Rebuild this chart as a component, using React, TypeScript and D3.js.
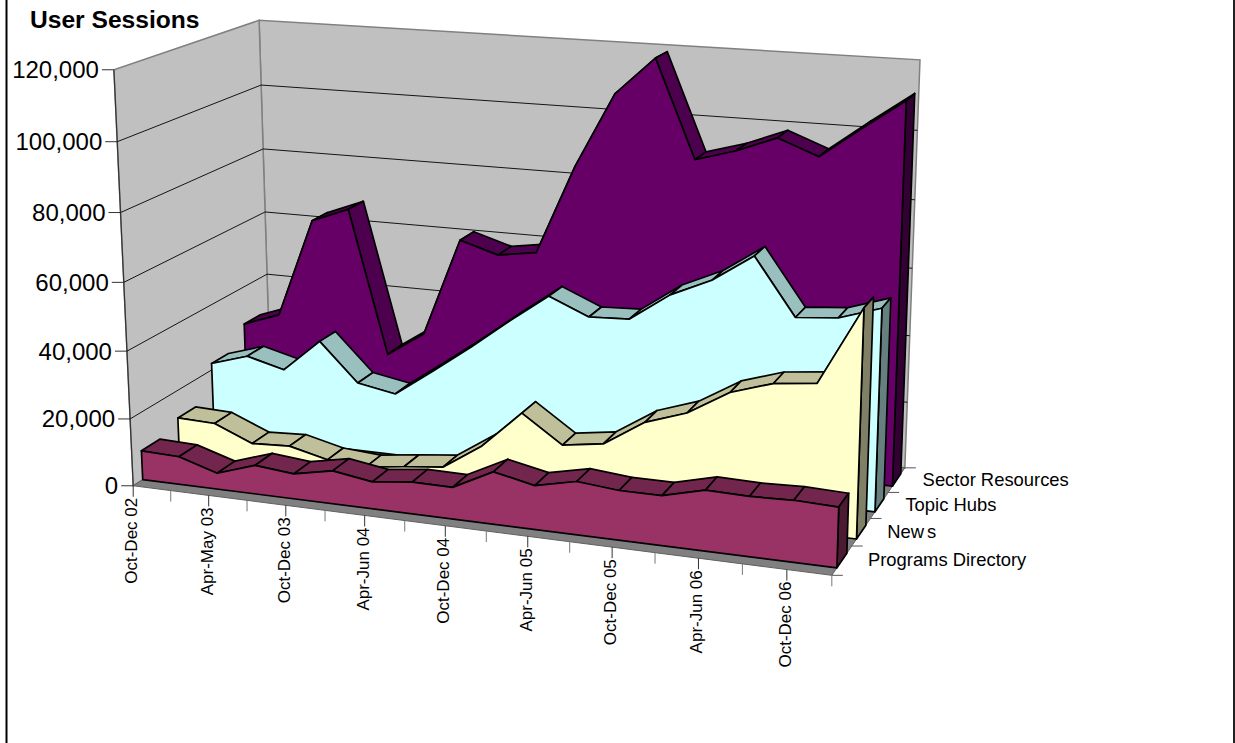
import React from "react";
import * as d3 from "d3";

// Quarterly reporting periods along the front edge of the floor.
const categories = [
  "Oct-Dec 02", "Jan-Mar 03", "Apr-May 03", "Jul-Sep 03", "Oct-Dec 03", "Jan-Mar 04",
  "Apr-Jun 04", "Jul-Sep 04", "Oct-Dec 04", "Jan-Mar 05", "Apr-Jun 05", "Jul-Sep 05",
  "Oct-Dec 05", "Jan-Mar 06", "Apr-Jun 06", "Jul-Sep 06", "Oct-Dec 06", "Jan-Mar 07",
];

// Sessions per quarter for each site section, front row to back row.
const programsDirectory = [8700, 8300, 4750, 8500, 7400, 9700, 7900, 9300, 9200, 15100, 12600, 15200, 14100, 14100, 17100, 16800, 17200, 16800];
const news = [11700, 11300, 6500, 7100, 4300, 3500, 5000, 6300, 14000, 25000, 17000, 18700, 26300, 30300, 37400, 41200, 42500, 64500];
const topicHubs = [22000, 25500, 22500, 32500, 20900, 18800, 27000, 35500, 44500, 53000, 48000, 48500, 56700, 62000, 70000, 53600, 54600, 58500];
const sectorResources = [28300, 32400, 63000, 67500, 23400, 31100, 61000, 57500, 59300, 86000, 108000, 119000, 90600, 94000, 98600, 94100, 103000, 111500];

const seriesNames = ["Programs Directory", "News", "Topic Hubs", "Sector Resources"];
const seriesValues = [programsDirectory, news, topicHubs, sectorResources];
const frontColors = ["#993366", "#FFFFCC", "#CCFFFF", "#660066"];
const topColors = ["#73264D", "#BFBF99", "#99BFBF", "#4D004D"];
const endColors = ["#4D1A33", "#808066", "#668080", "#330033"];
const valueTicks = [0, 20000, 40000, 60000, 80000, 100000, 120000];

// Where points of the unit plot box (x, value, depth) land on the page.
const boxCorners: [number[], number[]][] = [
  [[0, 0, 0], [133, 485]],
  [[1, 0, 0], [832, 575]],
  [[1, 0, 0.25], [852, 547]],
  [[1, 0, 0.5], [870, 519]],
  [[1, 0, 0.75], [888, 492]],
  [[1, 0, 1], [905, 467]],
  [[0, 0, 1], [271, 397]],
  [[0, 1, 0], [114, 70]],
  [[0, 1, 1], [259, 20]],
  [[1, 1, 1], [920, 60]],
];

// Least-squares fit of a 3x4 projective camera through the box points.
function fitCamera(points: [number[], number[]][]) {
  const rows: number[][] = [];
  const rhs: number[] = [];
  points.forEach(([[x, y, z], [u, v]]) => {
    rows.push([x, y, z, 1, 0, 0, 0, 0, -u * x, -u * y, -u * z]);
    rhs.push(u);
    rows.push([0, 0, 0, 0, x, y, z, 1, -v * x, -v * y, -v * z]);
    rhs.push(v);
  });
  const n = 11;
  const a = d3.range(n).map((i) => [
    ...d3.range(n).map((j) => d3.sum(rows, (r) => r[i] * r[j])),
    d3.sum(rows, (r, k) => r[i] * rhs[k]),
  ]);
  for (let c = 0; c < n; c++) {
    let p = c;
    for (let r = c + 1; r < n; r++) if (Math.abs(a[r][c]) > Math.abs(a[p][c])) p = r;
    [a[c], a[p]] = [a[p], a[c]];
    for (let r = 0; r < n; r++) {
      if (r === c) continue;
      const f = a[r][c] / a[c][c];
      for (let k = c; k <= n; k++) a[r][k] -= f * a[c][k];
    }
  }
  return a.map((row, i) => row[n] / row[i]);
}

const cam = fitCamera(boxCorners);
const project = (x: number, y: number, z: number): [number, number] => {
  const w = cam[8] * x + cam[9] * y + cam[10] * z + 1;
  return [
    (cam[0] * x + cam[1] * y + cam[2] * z + cam[3]) / w,
    (cam[4] * x + cam[5] * y + cam[6] * z + cam[7]) / w,
  ];
};

const xScale = d3.scaleLinear().domain([0, categories.length - 1]).range([0, 1]);
const yScale = d3.scaleLinear().domain([0, 120000]).range([0, 1]);
const depthScale = d3.scaleLinear().domain([0, seriesNames.length]).range([0, 1]);
const closedPath = d3.line().curve(d3.curveLinearClosed);
const DEPTH_INSET = 0.25;

const fmt = d3.format(",");
const SANS = "'Liberation Sans', Arial, sans-serif";

function Segments() {
  // Rows are painted back to front so nearer rows cover the ones behind.
  const order = d3.range(seriesValues.length).reverse();
  return (
    <g stroke="#000" strokeWidth={1.7} strokeLinejoin="round">
      {order.map((s) => {
        const vals = seriesValues[s];
        const zFront = depthScale(s + DEPTH_INSET);
        const zBack = depthScale(s + 1 - DEPTH_INSET);
        const front = vals.map((v, i) => project(xScale(i), yScale(v), zFront));
        const back = vals.map((v, i) => project(xScale(i), yScale(v), zBack));
        const last = vals.length - 1;
        const floorFrontEnd = project(1, 0, zFront);
        const floorBackEnd = project(1, 0, zBack);
        const floorFrontStart = project(0, 0, zFront);
        return (
          <g key={seriesNames[s]}>
            {vals.slice(0, -1).map((_, i) => (
              <path
                key={i}
                fill={topColors[s]}
                d={closedPath([front[i], front[i + 1], back[i + 1], back[i]]) as string}
              />
            ))}
            <path
              fill={endColors[s]}
              d={closedPath([front[last], back[last], floorBackEnd, floorFrontEnd]) as string}
            />
            <path
              fill={frontColors[s]}
              d={closedPath([floorFrontStart, ...front, floorFrontEnd]) as string}
            />
          </g>
        );
      })}
    </g>
  );
}

export default function App() {
  const backWall = [project(0, 0, 1), project(1, 0, 1), project(1, 1, 1), project(0, 1, 1)];
  const leftWall = [project(0, 0, 0), project(0, 0, 1), project(0, 1, 1), project(0, 1, 0)];
  const floor = [project(0, 0, 0), project(1, 0, 0), project(1, 0, 1), project(0, 0, 1)];

  return (
    <svg
      width={1235}
      height={743}
      style={{ position: "absolute", left: 0, top: 0, display: "block", background: "#fff" }}
      fontFamily={SANS}
    >
      <line x1={6.5} y1={0} x2={6.5} y2={743} stroke="#000" strokeWidth={2} />
      <line x1={1234} y1={0} x2={1234} y2={743} stroke="#222" strokeWidth={2} />

      <path d={closedPath(backWall as any) as string} fill="#C0C0C0" stroke="#808080" strokeWidth={1.5} />
      <path d={closedPath(leftWall as any) as string} fill="#C0C0C0" stroke="#808080" strokeWidth={1.5} />
      <path d={closedPath(floor as any) as string} fill="#808080" stroke="#606060" strokeWidth={1} />
      <line
        x1={project(0, 0, 0)[0]}
        y1={project(0, 0, 0)[1]}
        x2={project(0, 1, 0)[0]}
        y2={project(0, 1, 0)[1]}
        stroke="#333"
        strokeWidth={1.2}
      />

      {/* Horizontal gridlines across both walls */}
      {valueTicks.slice(1, -1).map((t) => {
        const a = project(0, yScale(t), 0);
        const b = project(0, yScale(t), 1);
        const c = project(1, yScale(t), 1);
        return (
          <polyline
            key={t}
            points={[a, b, c].join(" ")}
            fill="none"
            stroke="#000"
            strokeWidth={0.9}
          />
        );
      })}

      <Segments />

      {/* Value axis */}
      {valueTicks.map((t) => {
        const [x, y] = project(0, yScale(t), 0);
        return (
          <g key={t}>
            <line x1={x - 12} x2={x} y1={y} y2={y} stroke="#333" strokeWidth={1} />
            <text x={x - 15} y={y + 8.5} textAnchor="end" fontSize={24} fill="#000">
              {fmt(t)}
            </text>
          </g>
        );
      })}

      {/* Category axis */}
      {categories.map((c, i) => {
        const [x, y] = project(xScale(i), 0, 0);
        const labelled = i % 2 === 0 && i < categories.length - 1;
        return (
          <g key={c}>
            <line x1={x} x2={x} y1={y} y2={y + 11} stroke={labelled ? "#333" : "#777"} strokeWidth={1} />
            {labelled && (
              <text
                transform={`translate(${x + 4},${y + 12}) rotate(-90)`}
                textAnchor="end"
                fontSize={17}
                fill="#000"
              >
                {c}
              </text>
            )}
          </g>
        );
      })}

      {/* Series axis along the right floor edge */}
      {d3.range(seriesNames.length + 1).map((s) => {
        const [x, y] = project(1, 0, depthScale(s));
        return <line key={s} x1={x} x2={x + 11} y1={y} y2={y} stroke="#555" strokeWidth={1} />;
      })}
      {seriesNames.map((name, s) => {
        const [x, y] = project(1, 0, depthScale(s + 0.5));
        return (
          <text key={name} x={x + 26} y={y + 6} fontSize={18.4} fill="#000">
            {name === "News" ? (
              <>
                New<tspan dx={3}>s</tspan>
              </>
            ) : (
              name
            )}
          </text>
        );
      })}

      <text x={30} y={28} fontSize={24.6} fontWeight={700} fill="#000">
        User Sessions
      </text>
    </svg>
  );
}
